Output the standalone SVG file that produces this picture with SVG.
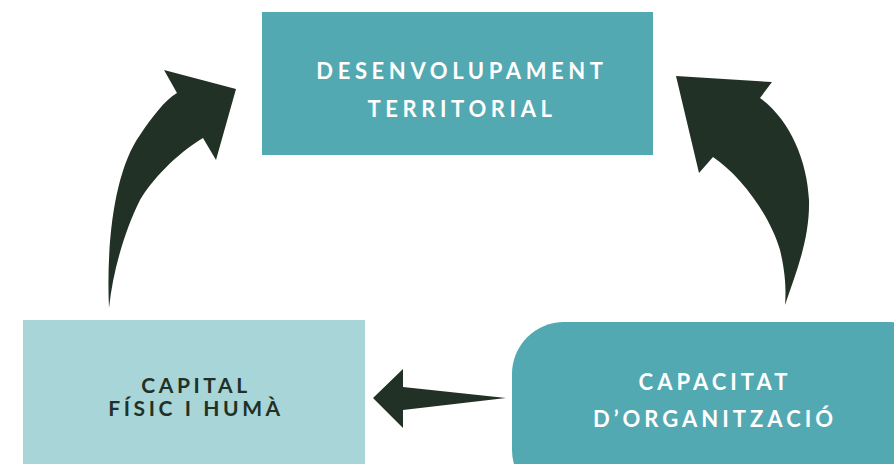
<svg xmlns="http://www.w3.org/2000/svg" width="894" height="464" viewBox="0 0 894 464">
<style>
.lbl{font-family:Lato,"Open Sans","Liberation Sans",sans-serif;font-weight:700;font-size:21px;letter-spacing:3.6px;text-anchor:middle}
.big{font-size:22px}
.w{fill:#ffffff}
.d{fill:#223126}
.arrow{fill:#213125}
</style>
<rect width="894" height="464" fill="#ffffff"/>
<g id="desenvolupament">
<rect x="262" y="12" width="391" height="143" fill="#52A9B1"/>
<text class="lbl big w" x="462" y="79" style="letter-spacing:4.6px">DESENVOLUPAMENT</text>
<text class="lbl big w" x="462" y="117" style="letter-spacing:4.6px">TERRITORIAL</text>
</g>
<g id="capital">
<rect x="23" y="320" width="342" height="150" fill="#A8D5D8"/>
<text class="lbl d" x="196" y="393">CAPITAL</text>
<text class="lbl d" x="196" y="416">FÍSIC I HUMÀ</text>
</g>
<g id="capacitat">
<rect x="512" y="322" width="430" height="180" rx="52" fill="#52A9B1"/>
<text class="lbl big w" x="715" y="390" style="letter-spacing:4px">CAPACITAT</text>
<text class="lbl big w" x="715" y="427" style="letter-spacing:4px">D’ORGANITZACIÓ</text>
</g>
<g id="connectors">
<path class="arrow" d="M109,308 C106,240 115,170 140,135 C152,117 165,100 177,93 L164,70 L236,89 L216,160 L203,138 C175,155 152,180 140,200 C125,230 113,270 109,308 Z"/>
<path class="arrow" d="M785,305 C795,275 810,240 809,200 C807,160 790,120 760,98 L772,82 L676,76 L699,173 L713,157 C740,175 770,215 780,250 C786,275 786,292 785,305 Z"/>
<path class="arrow" d="M506,398 L403,387 L403,369 L373,398 L403,428 L403,410 Z"/>
</g>
</svg>
